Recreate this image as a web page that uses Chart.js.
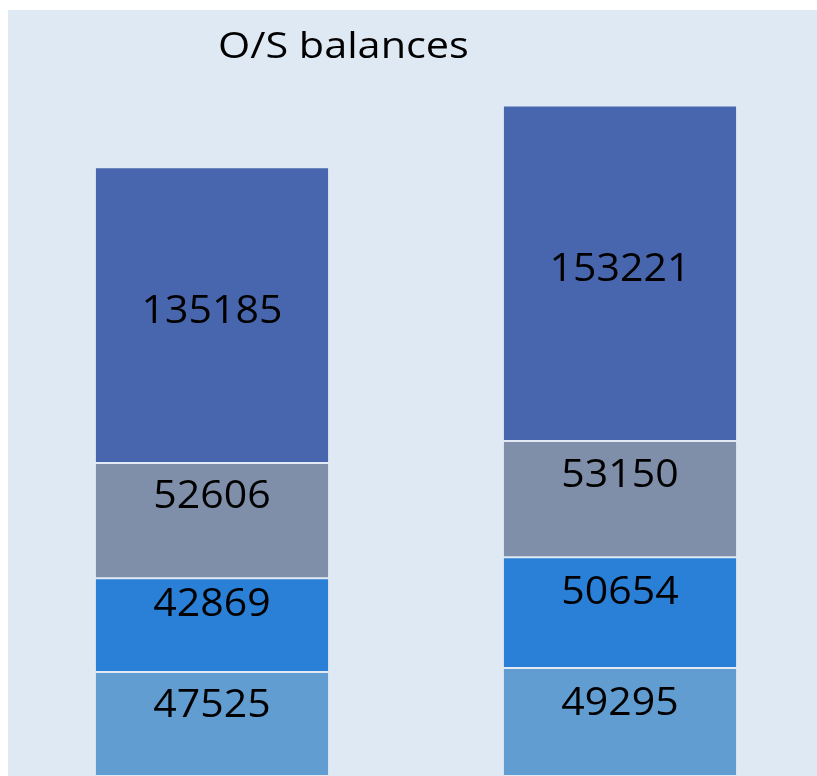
<!DOCTYPE html>
<html>
<head>
<meta charset="utf-8">
<script src="https://cdn.jsdelivr.net/npm/chart.js@4/dist/chart.umd.min.js"></script>
<style>
html, body { margin: 0; padding: 0; background: #ffffff; overflow: hidden; width: 817px; height: 776px; }
#wrap { position: absolute; left: 8px; top: 10px; right: -30px; bottom: -30px; background: #dfe9f4; overflow: hidden; }
#chart { position: absolute; left: 0; top: 0; }
</style>
</head>
<body>
<div id="wrap"><canvas id="chart" width="816" height="766"></canvas></div>
<script>

var periods = ['Period 1', 'Period 2'];
var seg1 = [47525, 49295];
var seg2 = [42869, 50654];
var seg3 = [52606, 53150];
var seg4 = [135185, 153221];
var titleText = 'O/S balances';

// panel background + title
var panel = {
	id: 'panel',
	beforeDraw: function(chart) {
		var c = chart.ctx;
		c.save();
		c.fillStyle = '#dfe9f4';
		c.fillRect(0, 0, chart.width, chart.height);
		c.restore();
	},
	afterDraw: function(chart) {
		var c = chart.ctx;
		c.save();
		c.fillStyle = '#000000';
		c.font = '36px "Open Sans"';
		c.textAlign = 'left';
		c.textBaseline = 'alphabetic';
		c.translate(210, 48);
		c.scale(1.15, 1);
		c.fillText(titleText, 0, 0);
		c.restore();
	}
};

// value labels inside each segment
var labels = {
	id: 'labels',
	afterDatasetsDraw: function(chart) {
		var c = chart.ctx;
		c.save();
		c.fillStyle = '#000000';
		c.font = '38px "Open Sans"';
		c.textAlign = 'center';
		c.textBaseline = 'middle';
		chart.data.datasets.forEach(function(ds, i) {
			var meta = chart.getDatasetMeta(i);
			meta.data.forEach(function(bar, j) {
				var mid = (bar.y + bar.base) / 2 + (ds.labelShift || 0);
				c.save();
				c.translate(bar.x, mid);
				c.scale(1.08, 1);
				c.fillText(String(ds.data[j]), 0, 0);
				c.restore();
			});
		});
		c.restore();
	}
};

var ctx = document.getElementById('chart');
var chart = new Chart(ctx, {
	type: 'bar',
	data: {
		labels: periods,
		datasets: [{
			label: 'seg1',
			data: seg1,
			backgroundColor: '#619dd1',
			labelShift: -18
		}, {
			label: 'seg2',
			data: seg2,
			backgroundColor: '#2a7fd7',
			labelShift: -20
		}, {
			label: 'seg3',
			data: seg3,
			backgroundColor: '#7f8ea9',
			labelShift: -23
		}, {
			label: 'seg4',
			data: seg4,
			backgroundColor: '#4866ae',
			labelShift: -3
		}]
	},
	options: {
		responsive: false,
		animation: false,
		devicePixelRatio: 1,
		layout: { padding: 0 },
		datasets: {
			bar: {
				categoryPercentage: 1,
				barPercentage: 0.574,
				borderWidth: 1,
				borderColor: 'rgba(255,255,255,0.12)',
				borderSkipped: false
			}
		},
		scales: {
			x: { display: false, stacked: true },
			y: { display: false, stacked: true, min: 0, max: 350000 }
		},
		plugins: {
			legend: { display: false },
			tooltip: { enabled: false },
			title: { display: false }
		}
	},
	plugins: [panel, labels]
});

</script>
</body>
</html>
